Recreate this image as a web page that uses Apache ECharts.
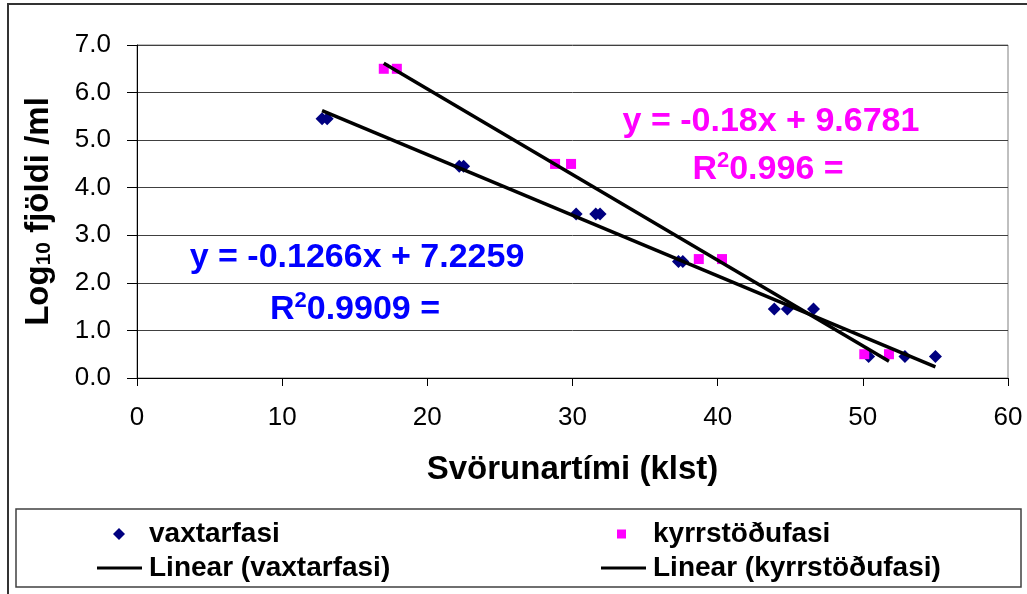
<!DOCTYPE html>
<html><head><meta charset="utf-8">
<script src="https://cdn.jsdelivr.net/npm/echarts@6/dist/echarts.min.js"></script>
<style>html,body{margin:0;padding:0;background:#fff}#c{width:1027px;height:594px}</style>
</head><body><div id="c"></div>
<script>
// ---- data ----
const vaxX = [12.75, 13.1, 22.2, 22.5, 30.25, 31.6, 31.9, 37.3, 37.6, 43.9, 44.8, 46.6, 50.4, 52.9, 55.0];
const vaxY = [5.45, 5.45, 4.45, 4.45, 3.45, 3.45, 3.45, 2.45, 2.45, 1.45, 1.45, 1.45, 0.45, 0.45, 0.45];
const kyrX = [17.0, 17.9, 28.8, 29.9, 38.7, 40.3, 50.1, 51.8];
const kyrY = [6.5, 6.5, 4.5, 4.5, 2.5, 2.5, 0.5, 0.5];
const seriesNames = ['vaxtarfasi', 'kyrrstöðufasi'];
const trendNames = ['Linear (vaxtarfasi)', 'Linear (kyrrstöðufasi)'];
const vaxEq = 'y = -0.1266x + 7.2259';
const vaxR2 = '0.9909 =';
const kyrEq = 'y = -0.18x + 9.6781';
const kyrR2 = '0.996 =';
const xAxisTitle = 'Svörunartími (klst)';

const FONT = 'Liberation Sans, Arial, sans-serif';
const BLUE_MARK = '#000080', PINK = '#FF00FF', BLUE_TXT = '#0000FF';

function zip(xs, ys) { return xs.map((x, i) => [x, ys[i]]); }
function trend(xs, ys) {
  const n = xs.length;
  const mx = xs.reduce((a, b) => a + b, 0) / n;
  const my = ys.reduce((a, b) => a + b, 0) / n;
  let sxy = 0, sxx = 0;
  for (let i = 0; i < n; i++) { sxy += (xs[i] - mx) * (ys[i] - my); sxx += (xs[i] - mx) ** 2; }
  const b = sxy / sxx, a = my - b * mx;
  const x0 = Math.min(...xs), x1 = Math.max(...xs);
  return [[x0, a + b * x0], [x1, a + b * x1]];
}

const chart = echarts.init(document.getElementById('c'), null, {renderer: 'canvas'});

function legendText(gap) {
  return {fontFamily: FONT, fontSize: 28, fontWeight: 'bold', color: '#000', rich: {g: {width: gap}}};
}
function mkLegend(name, icon, w, h, left, top, gap) {
  return {data: [{name: name, icon: icon}], left: left, top: top, itemWidth: w, itemHeight: h, itemGap: 0,
    padding: 0, selectedMode: false, formatter: n => '{g|}' + n, textStyle: legendText(gap)};
}

function richLine(color) {
  return {
    a: {fontFamily: FONT, fontSize: 34, fontWeight: 'bold', fill: color, lineHeight: 40, verticalAlign: 'middle'},
    s: {fontFamily: FONT, fontSize: 22, fontWeight: 'bold', fill: color, lineHeight: 12, verticalAlign: 'top'}
  };
}

const LINE_ICON = 'path://M0 0H45V3H0Z';

chart.setOption({
  animation: false,
  backgroundColor: '#fff',
  grid: {left: 137, top: 45, width: 871, height: 333, show: true, borderColor: '#808080', borderWidth: 1, backgroundColor: '#fff'},
  xAxis: {
    type: 'value', min: 0, max: 60, interval: 10,
    name: xAxisTitle, nameLocation: 'middle', nameGap: 75,
    nameTextStyle: {fontFamily: FONT, fontSize: 33, fontWeight: 'bold', color: '#000'},
    axisLine: {show: true, lineStyle: {color: '#000', width: 1}},
    axisTick: {show: true, length: 8, lineStyle: {color: '#000'}},
    axisLabel: {fontFamily: FONT, fontSize: 26, color: '#000', margin: 27},
    splitLine: {show: false}
  },
  yAxis: {
    type: 'value', min: 0, max: 7, interval: 1,
    name: '{a|Log}{s|10}{a| fjöldi /ml}', nameLocation: 'middle', nameGap: 82,
    nameTextStyle: {
      rich: {
        a: {fontFamily: FONT, fontSize: 33, fontWeight: 'bold', color: '#000'},
        s: {fontFamily: FONT, fontSize: 21, fontWeight: 'bold', color: '#000', verticalAlign: 'bottom'}
      }
    },
    axisLine: {show: true, lineStyle: {color: '#000', width: 1}},
    axisTick: {show: true, length: 10, lineStyle: {color: '#000'}},
    axisLabel: {fontFamily: FONT, fontSize: 26, color: '#000', margin: 26, formatter: v => v.toFixed(1)},
    splitLine: {show: true, lineStyle: {color: '#404040', width: 1}}
  },
  legend: [
    mkLegend(seriesNames[0], 'diamond', 12, 12, 113, 520, 19),
    mkLegend(seriesNames[1], 'rect', 9, 9, 617, 520, 22),
    mkLegend(trendNames[0], LINE_ICON, 45, 3, 97, 554, 2),
    mkLegend(trendNames[1], LINE_ICON, 45, 3, 601, 554, 2)
  ],
  series: [
    {name: seriesNames[0], type: 'scatter', data: zip(vaxX, vaxY), symbol: 'diamond', symbolSize: 13,
      itemStyle: {color: BLUE_MARK, opacity: 1}, z: 2},
    {name: seriesNames[1], type: 'scatter', data: zip(kyrX, kyrY), symbol: 'rect', symbolSize: 10,
      itemStyle: {color: PINK, opacity: 1}, z: 2},
    {name: trendNames[0], type: 'line', data: trend(vaxX, vaxY), showSymbol: false, symbol: 'none',
      lineStyle: {color: '#000', width: 3.5}, itemStyle: {color: '#000'}, z: 3},
    {name: trendNames[1], type: 'line', data: trend(kyrX, kyrY), showSymbol: false, symbol: 'none',
      lineStyle: {color: '#000', width: 3.5}, itemStyle: {color: '#000'}, z: 3}
  ],
  graphic: [
    {type: 'rect', z: -10, shape: {x: 8, y: 4, width: 1100, height: 700}, style: {fill: 'none', stroke: '#333', lineWidth: 2}},
    {type: 'rect', z: 10, shape: {x: 16, y: 509, width: 1005, height: 78}, style: {fill: 'none', stroke: '#404040', lineWidth: 1.5}},
    {type: 'text', z: 20, x: 357, y: 258, style: {text: vaxEq, font: 'bold 34px ' + FONT, fill: BLUE_TXT, align: 'center', verticalAlign: 'middle'}},
    {type: 'text', z: 20, x: 355, y: 310, style: {text: '{a|R}{s|2}{a|' + vaxR2 + '}', rich: richLine(BLUE_TXT), align: 'center', verticalAlign: 'middle'}},
    {type: 'text', z: 20, x: 771, y: 122, style: {text: kyrEq, font: 'bold 34px ' + FONT, fill: PINK, align: 'center', verticalAlign: 'middle'}},
    {type: 'text', z: 20, x: 768, y: 170, style: {text: '{a|R}{s|2}{a|' + kyrR2 + '}', rich: richLine(PINK), align: 'center', verticalAlign: 'middle'}}
  ]
});
</script>
</body></html>
